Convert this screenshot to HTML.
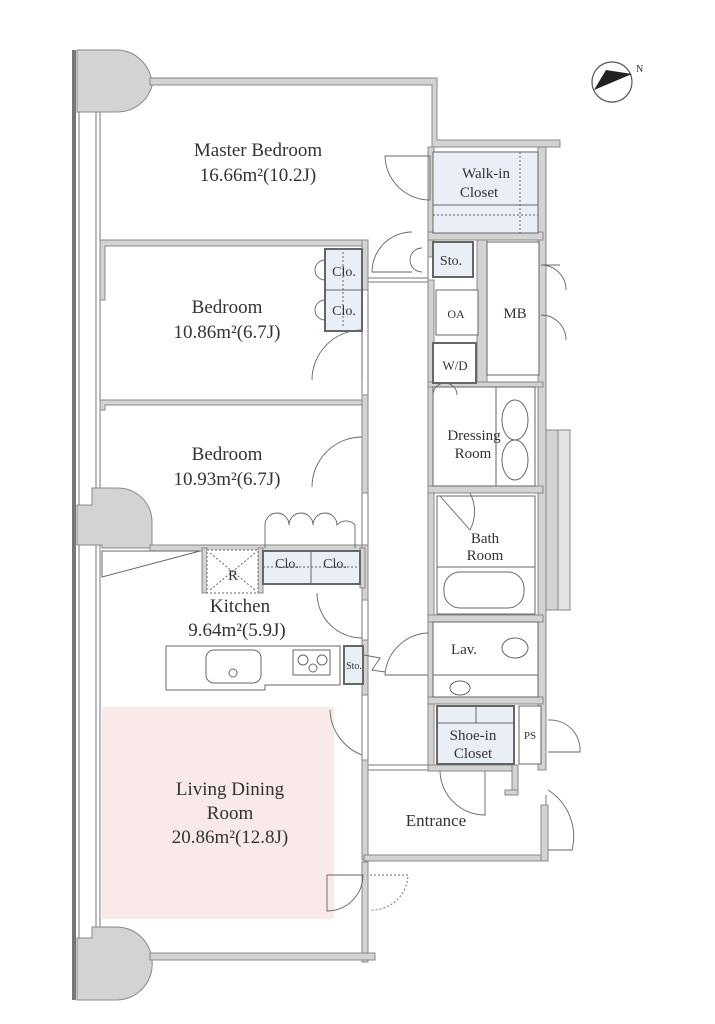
<!DOCTYPE html>
<html><head><meta charset="utf-8"><style>
html,body{margin:0;padding:0;background:#fff;}
svg{display:block;}
text{font-family:"Liberation Serif",serif;fill:#333;}
</style></head><body>
<svg width="715" height="1024" viewBox="0 0 715 1024" xmlns="http://www.w3.org/2000/svg">
<g fill="none" stroke="#777" stroke-width="1">
<rect x="102" y="707" width="232" height="212" fill="#f9e9e9" stroke="none"/>
<rect x="72" y="50" width="4" height="950" fill="#777" stroke="none"/>
<line x1="79" y1="50" x2="79" y2="1000"/>
<line x1="96" y1="110" x2="96" y2="930"/>
<line x1="100" y1="110" x2="100" y2="930"/>
<!-- thin corridor lines -->
<line x1="362" y1="290" x2="362" y2="395"/><line x1="368" y1="290" x2="368" y2="395"/>
<line x1="362" y1="493" x2="362" y2="545"/><line x1="368" y1="493" x2="368" y2="545"/>
<line x1="362" y1="600" x2="362" y2="640"/><line x1="368" y1="600" x2="368" y2="640"/>
<line x1="362" y1="695" x2="362" y2="760"/><line x1="368" y1="695" x2="368" y2="760"/>
<line x1="368" y1="278" x2="428" y2="278"/><line x1="368" y1="282" x2="428" y2="282"/>
<line x1="368" y1="765" x2="428" y2="765"/><line x1="368" y1="770" x2="428" y2="770"/>
<line x1="428" y1="257" x2="428" y2="280"/>
<line x1="546" y1="795" x2="546" y2="805"/>
</g>
<g fill="#d3d3d3" stroke="#888" stroke-width="1">
<path d="M77 50 H118 A36 36 0 0 1 152 86 V86 A36 36 0 0 1 118 112 H92 V112 H77 Z"/>
<path d="M77 505 H92 V488 H118 A34 34 0 0 1 152 522 V548 H102 V545 H77 Z"/>
<path d="M77 938 H92 V927 H118 A36 36 0 0 1 152 960 V960 A36 36 0 0 1 118 1000 H77 Z"/>
<path d="M150 78 H437 V140 H560 V147 H432 V85 H150 Z"/>
<path d="M100 240 H367 V246 H105 V300 H100 Z"/>
<path d="M100 400 H367 V405 H105 V410 H100 Z"/>
<path d="M150 545 H367 V551 H150 Z"/>
<rect x="362" y="240" width="6" height="50"/>
<rect x="362" y="395" width="6" height="98"/>
<rect x="362" y="545" width="6" height="55"/>
<rect x="362" y="640" width="6" height="55"/>
<rect x="362" y="760" width="6" height="100"/>
<rect x="364" y="855" width="184" height="6"/>
<rect x="541" y="805" width="7" height="56"/>
<rect x="362" y="862" width="6" height="100"/>
<rect x="150" y="953" width="225" height="7"/>
<rect x="428" y="147" width="6" height="110"/>
<rect x="428" y="280" width="6" height="488"/>
<rect x="538" y="147" width="8" height="623"/>
<rect x="477" y="237" width="10" height="145"/>
<rect x="428" y="765" width="90" height="6"/>
<rect x="512" y="765" width="6" height="30"/>
<rect x="505" y="790" width="13" height="5"/>
<rect x="546" y="430" width="12" height="180"/>
<rect x="558" y="430" width="12" height="180" fill="#e4e4e4"/>
<rect x="428" y="232" width="115" height="8"/>
<rect x="428" y="486" width="115" height="7"/>
<rect x="428" y="615" width="115" height="7"/>
<rect x="428" y="697" width="115" height="7"/>
<rect x="428" y="382" width="115" height="5"/>
<rect x="258" y="548" width="5" height="45"/>
<rect x="202" y="548" width="5" height="45"/>
<rect x="360" y="548" width="5" height="40"/>
</g>
<g stroke="#666" stroke-width="1">
<rect x="433" y="152" width="105" height="81" fill="#e9eef7"/>
<line x1="433" y1="205" x2="538" y2="205"/>
<line x1="433" y1="215" x2="538" y2="215" stroke-dasharray="2 2"/>
<line x1="520" y1="152" x2="520" y2="233" stroke-dasharray="2 2"/>
<rect x="433" y="242" width="40" height="35" fill="#e9eef7" stroke-width="2"/>
<rect x="325" y="249" width="37" height="82" fill="#e9eef7" stroke-width="2"/>
<line x1="325" y1="290" x2="362" y2="290"/>
<line x1="343" y1="252" x2="343" y2="328" stroke-dasharray="2 2"/>
<rect x="436" y="290" width="42" height="45" fill="#fff"/>
<rect x="487" y="242" width="52" height="133" fill="#fff"/>
<rect x="433" y="343" width="43" height="40" fill="#fff" stroke-width="2"/>
<rect x="433" y="387" width="102" height="99" fill="#fff"/>
<line x1="496" y1="387" x2="496" y2="486"/>
<ellipse cx="515" cy="420" rx="13" ry="20" fill="none"/>
<ellipse cx="515" cy="460" rx="13" ry="20" fill="none"/>
<rect x="437" y="496" width="98" height="118" fill="#fff"/>
<line x1="437" y1="567" x2="535" y2="567"/>
<rect x="444" y="572" width="80" height="36" rx="16" fill="none"/>
<rect x="433" y="622" width="105" height="75" fill="#fff"/>
<line x1="433" y1="675" x2="538" y2="675"/>
<ellipse cx="460" cy="688" rx="10" ry="7" fill="none"/>
<ellipse cx="515" cy="648" rx="13" ry="10" fill="none"/>
<rect x="437" y="706" width="77" height="58" fill="#e9eef7" stroke-width="2"/>
<line x1="437" y1="723" x2="514" y2="723"/>
<line x1="476" y1="706" x2="476" y2="723"/>
<rect x="519" y="706" width="22" height="58" fill="#fff"/>
<rect x="207" y="550" width="51" height="43" fill="#fff" stroke-dasharray="2 2"/>
<line x1="210" y1="553" x2="255" y2="590" stroke-dasharray="2 2"/>
<line x1="255" y1="553" x2="210" y2="590" stroke-dasharray="2 2"/>
<rect x="263" y="551" width="97" height="33" fill="#e9eef7" stroke-width="2"/>
<line x1="311" y1="551" x2="311" y2="584"/>
<line x1="263" y1="567" x2="360" y2="567" stroke-dasharray="2 2"/>
<polygon points="102,551 200,551 102,577" fill="#fff"/>
<path d="M166 646 H340 V685 H265 V690 H166 Z" fill="#fff"/>
<rect x="206" y="650" width="55" height="33" rx="8" fill="none"/>
<circle cx="233" cy="673" r="4" fill="none"/>
<rect x="293" y="650" width="37" height="25" fill="none"/>
<circle cx="303" cy="660" r="5" fill="none"/><circle cx="322" cy="660" r="5" fill="none"/><circle cx="313" cy="668" r="4" fill="none"/>
<rect x="344" y="646" width="19" height="38" fill="#e9eef7" stroke-width="2"/>
</g>
<g fill="none" stroke="#666" stroke-width="0.9">
<path d="M385 156 A45 45 0 0 0 430 200 V156 Z"/>
<path d="M412 232 A40 40 0 0 0 372 272 H412"/>
<path d="M410 260 A12 12 0 0 1 422 248 M410 260 A12 12 0 0 0 422 272"/>
<path d="M312 380 A50 50 0 0 1 362 330 V380"/>
<path d="M325 260 A10 10 0 0 0 315 270 A10 10 0 0 0 325 280 M325 300 A10 10 0 0 0 315 310 A10 10 0 0 0 325 320"/>
<path d="M312 487 A50 50 0 0 1 362 437"/>
<path d="M265 548 V525 A12 12 0 0 1 289 525 A12 12 0 0 1 313 525 A12 12 0 0 1 337 525 A12 12 0 0 1 355 525 V548"/>
<path d="M317 593 A45 45 0 0 0 362 638"/>
<path d="M428 633 A45 45 0 0 0 385 675 H428"/>
<path d="M364 655 L380 658 L372 670 L385 672"/>
<path d="M433 395 A12 12 0 0 1 445 383 A12 12 0 0 1 457 395"/>
<path d="M440 496 L470 530 A40 40 0 0 0 470 493"/>
<path d="M330 710 A50 50 0 0 0 362 755"/>
<path d="M440 771 A45 45 0 0 0 485 815 V771"/>
<path d="M548 790 A55 55 0 0 1 572 850 H548"/>
<path d="M548 720 A30 30 0 0 1 580 752 H548"/>
<path d="M327 875 H363 A36 36 0 0 1 327 911 Z"/>
<path d="M370 875 H408 A36 36 0 0 1 370 910" stroke-dasharray="2 2"/>
<line x1="541" y1="265" x2="560" y2="265"/><path d="M541 265 A25 25 0 0 1 566 290 M541 315 A25 25 0 0 1 566 340"/>
</g>
<g transform="translate(612,82)">
<circle r="20" fill="none" stroke="#555" stroke-width="1.2"/>
<path d="M-18 8 L20 -8 L-6 -12 Z" fill="#222"/>
<text x="24" y="-10" font-size="10">N</text>
</g>
<g text-anchor="middle">
<text x="258" y="156" font-size="19">Master Bedroom</text>
<text x="258" y="181" font-size="19">16.66m²(10.2J)</text>
<text x="486" y="178" font-size="15">Walk-in</text>
<text x="479" y="197" font-size="15">Closet</text>
<text x="451" y="265" font-size="14">Sto.</text>
<text x="344" y="276" font-size="14">Clo.</text>
<text x="344" y="315" font-size="14">Clo.</text>
<text x="456" y="318" font-size="12">OA</text>
<text x="515" y="318" font-size="15">MB</text>
<text x="455" y="370" font-size="13">W/D</text>
<text x="227" y="313" font-size="19">Bedroom</text>
<text x="227" y="338" font-size="19">10.86m²(6.7J)</text>
<text x="227" y="460" font-size="19">Bedroom</text>
<text x="227" y="485" font-size="19">10.93m²(6.7J)</text>
<text x="474" y="440" font-size="15">Dressing</text>
<text x="473" y="458" font-size="15">Room</text>
<text x="485" y="543" font-size="15">Bath</text>
<text x="485" y="560" font-size="15">Room</text>
<text x="233" y="580" font-size="15">R</text>
<text x="287" y="568" font-size="14">Clo.</text>
<text x="335" y="568" font-size="14">Clo.</text>
<text x="240" y="612" font-size="19">Kitchen</text>
<text x="237" y="636" font-size="19">9.64m²(5.9J)</text>
<text x="354" y="669" font-size="10">Sto.</text>
<text x="464" y="654" font-size="15">Lav.</text>
<text x="473" y="740" font-size="15">Shoe-in</text>
<text x="473" y="758" font-size="15">Closet</text>
<text x="530" y="739" font-size="11">PS</text>
<text x="230" y="795" font-size="19">Living Dining</text>
<text x="230" y="819" font-size="19">Room</text>
<text x="230" y="843" font-size="19">20.86m²(12.8J)</text>
<text x="436" y="826" font-size="17">Entrance</text>
</g>
</svg>
</body></html>
